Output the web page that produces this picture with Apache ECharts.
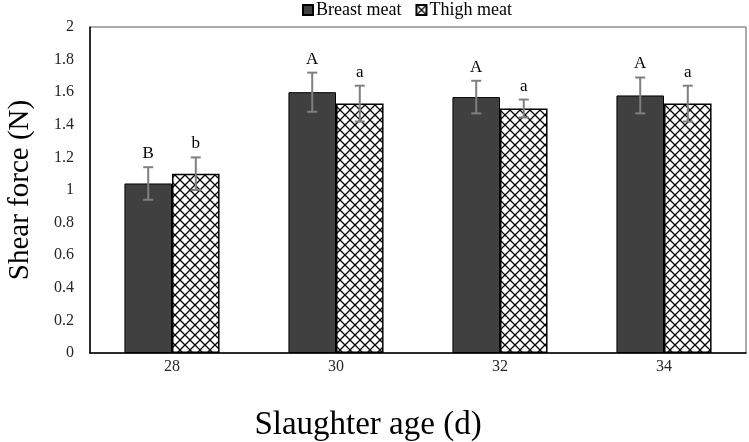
<!DOCTYPE html>
<html><head><meta charset="utf-8">
<script src="https://cdn.jsdelivr.net/npm/echarts@6/dist/echarts.min.js"></script>
<style>html,body{margin:0;padding:0;background:#fff}#c{width:749px;height:442px}</style>
</head><body><div id="c"></div>
<script>
const categories = ['28', '30', '32', '34'];
const breastMeat = [1.04, 1.60, 1.57, 1.58];
const thighMeat = [1.10, 1.53, 1.50, 1.53];
const breastErr = [0.10, 0.12, 0.10, 0.11];
const thighErr = [0.10, 0.11, 0.055, 0.11];
const breastLetters = ['B', 'A', 'A', 'A'];
const thighLetters = ['b', 'a', 'a', 'a'];

const FONT = '"Liberation Serif", "Times New Roman", serif';

function makePattern() {
  const s = 10;
  const c = document.createElement('canvas');
  c.width = s; c.height = s;
  const g = c.getContext('2d');
  g.fillStyle = '#fff';
  g.fillRect(0, 0, s, s);
  g.strokeStyle = '#000';
  g.lineWidth = 1.3;
  g.beginPath();
  g.moveTo(-2, -2); g.lineTo(s + 2, s + 2);
  g.moveTo(s + 2, -2); g.lineTo(-2, s + 2);
  g.stroke();
  return c;
}
const pattern = { image: makePattern(), repeat: 'repeat' };

function errSeries(vals, errs, letters, side) {
  return {
    type: 'custom',
    z: 10,
    silent: true,
    data: vals.map((v, i) => [i, v, errs[i]]),
    renderItem: function (params, api) {
      const i = api.value(0), v = api.value(1), e = api.value(2);
      const band = api.size([1, 0])[0];
      const x = api.coord([i, v])[0] + side * band * 0.145;
      const yT = api.coord([i, v + e])[1];
      const yB = api.coord([i, v - e])[1];
      const hw = 5;
      const st = { stroke: '#7f7f7f', lineWidth: 2 };
      return {
        type: 'group',
        children: [
          { type: 'line', shape: { x1: x, y1: yT, x2: x, y2: yB }, style: st },
          { type: 'line', shape: { x1: x - hw, y1: yT, x2: x + hw, y2: yT }, style: st },
          { type: 'line', shape: { x1: x - hw, y1: yB, x2: x + hw, y2: yB }, style: st },
          { type: 'text', x: x, y: yT - 5,
            style: { text: letters[i], textAlign: 'center', textVerticalAlign: 'bottom',
                     font: '17px ' + FONT, fill: '#000' } }
        ]
      };
    }
  };
}

const chart = echarts.init(document.getElementById('c'), null, { renderer: 'canvas' });
chart.setOption({
  animation: false,
  backgroundColor: '#fff',
  legend: {
    data: ['Breast meat', 'Thigh meat'],
    top: -4,
    left: 297,
    icon: 'rect',
    itemWidth: 10,
    itemHeight: 10,
    itemGap: 14,
    textStyle: { fontFamily: FONT, fontSize: 18, color: '#000', padding: [0, 0, 0, -2] }
  },
  grid: {
    left: 90, right: 3, top: 27, bottom: 89,
    containLabel: false,
    outerBoundsMode: 'none',
    show: true, borderColor: '#595959', borderWidth: 1
  },
  xAxis: {
    type: 'category',
    data: categories,
    name: 'Slaughter age (d)',
    nameLocation: 'middle',
    nameGap: 56,
    nameTextStyle: { fontFamily: FONT, fontSize: 33, color: '#000', padding: [0, 100, 0, 0] },
    axisLine: { lineStyle: { color: '#000', width: 1.5 } },
    axisTick: { show: false },
    axisLabel: { fontFamily: FONT, fontSize: 16, color: '#262626', margin: 6 }
  },
  yAxis: {
    type: 'value',
    min: 0, max: 2, interval: 0.2,
    name: 'Shear force (N)',
    nameLocation: 'middle',
    nameGap: 55,
    nameTextStyle: { fontFamily: FONT, fontSize: 29, color: '#000' },
    axisLine: { show: true, lineStyle: { color: '#000', width: 1.5 } },
    axisTick: { show: false },
    splitLine: { show: false },
    axisLabel: { fontFamily: FONT, fontSize: 16, color: '#262626', margin: 16 }
  },
  series: [
    {
      name: 'Breast meat', type: 'bar', data: breastMeat,
      barGap: '0%', barCategoryGap: '42%',
      itemStyle: { color: '#404040', borderColor: '#000', borderWidth: 1 }
    },
    {
      name: 'Thigh meat', type: 'bar', data: thighMeat,
      barGap: '0%', barCategoryGap: '42%',
      itemStyle: { color: pattern, borderColor: '#000', borderWidth: 1.5 }
    },
    errSeries(breastMeat, breastErr, breastLetters, -1),
    errSeries(thighMeat, thighErr, thighLetters, 1)
  ]
});
</script></body></html>
